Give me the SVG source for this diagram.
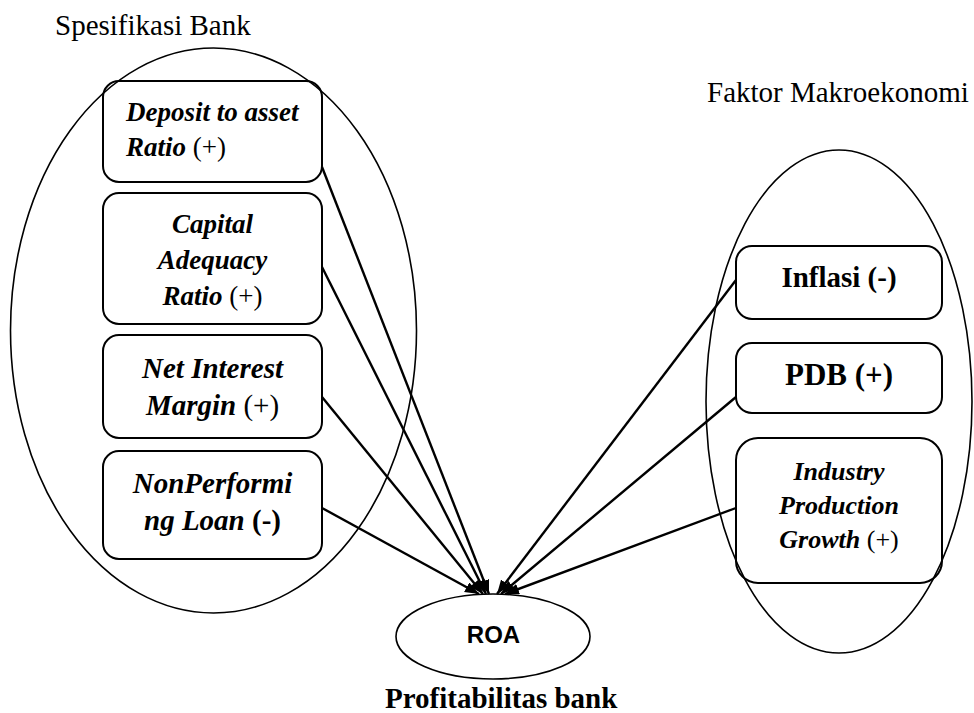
<svg xmlns="http://www.w3.org/2000/svg" width="974" height="713" viewBox="0 0 974 713">
<defs>
<marker id="arr" markerUnits="userSpaceOnUse" markerWidth="16" markerHeight="12" refX="14" refY="5.5" orient="auto">
<path d="M0,0 L14,5.5 L0,11 z" fill="#000"/>
</marker>
<style>
.grp{fill:none;stroke:#000;stroke-width:1.6}
.box{fill:none;stroke:#000;stroke-width:2}
.con{stroke:#000;stroke-width:2.4;fill:none;marker-end:url(#arr)}
text{font-family:"Liberation Serif","Times New Roman",serif;fill:#000}
.h{font-size:29px}
.bi{font-weight:bold;font-style:italic}
.b{font-weight:bold}
.r{font-weight:normal;font-style:normal}
.c{text-anchor:middle}
</style>
</defs>
<rect width="974" height="713" fill="#fff"/>

<text class="h" x="55" y="35">Spesifikasi Bank</text>
<text class="h" x="707" y="102">Faktor Makroekonomi</text>

<g id="group-bank"><ellipse class="grp" cx="213.5" cy="330.5" rx="203" ry="282.5"/></g>
<g id="group-macro"><ellipse class="grp" cx="839" cy="401.5" rx="133" ry="251.5"/></g>

<g id="connectors">
<line class="con" x1="322" y1="167" x2="489" y2="594"/>
<line class="con" x1="322" y1="267" x2="486" y2="594"/>
<line class="con" x1="322" y1="397" x2="483" y2="594"/>
<line class="con" x1="322" y1="508" x2="479" y2="594"/>
<line class="con" x1="736" y1="280" x2="497" y2="594"/>
<line class="con" x1="736" y1="397" x2="501" y2="594"/>
<line class="con" x1="736" y1="508" x2="505" y2="594"/>
</g>

<g id="dar">
<rect class="box" x="103" y="81" width="219" height="101" rx="16"/>
<text style="font-size:27px"><tspan class="bi" x="126" y="121">Deposit to asset</tspan><tspan class="bi" x="126" y="156">Ratio</tspan><tspan class="r"> (+)</tspan></text>
</g>

<g id="car">
<rect class="box" x="103" y="193" width="219" height="131" rx="16"/>
<text class="c" style="font-size:27px"><tspan class="bi" x="212.5" y="233">Capital</tspan><tspan class="bi" x="212.5" y="269">Adequacy</tspan><tspan x="212.5" y="305"><tspan class="bi">Ratio</tspan><tspan class="r"> (+)</tspan></tspan></text>
</g>

<g id="nim">
<rect class="box" x="103" y="335" width="219" height="103" rx="16"/>
<text class="c" style="font-size:29px"><tspan class="bi" x="212.5" y="378">Net Interest</tspan><tspan x="212.5" y="415"><tspan class="bi">Margin</tspan><tspan class="r"> (+)</tspan></tspan></text>
</g>

<g id="npl">
<rect class="box" x="103" y="451" width="219" height="108" rx="16"/>
<text class="c" style="font-size:29px"><tspan class="bi" x="212.5" y="493">NonPerformi</tspan><tspan x="212.5" y="530"><tspan class="bi">ng Loan</tspan><tspan class="b"> (-)</tspan></tspan></text>
</g>

<g id="inflasi">
<rect class="box" x="736" y="246" width="206" height="73" rx="16"/>
<text class="c b" x="839" y="287" style="font-size:29px">Inflasi (-)</text>
</g>

<g id="pdb">
<rect class="box" x="736" y="343" width="206" height="70" rx="16"/>
<text class="c b" x="839" y="385" style="font-size:31px">PDB (+)</text>
</g>

<g id="ipg">
<rect class="box" x="736" y="438" width="206" height="145" rx="22"/>
<text class="c" style="font-size:26px"><tspan class="bi" x="839" y="480">Industry</tspan><tspan class="bi" x="839" y="514">Production</tspan><tspan x="839" y="548"><tspan class="bi">Growth</tspan><tspan class="r"> (+)</tspan></tspan></text>
</g>

<g id="roa">
<ellipse class="grp" cx="493" cy="636.5" rx="97" ry="42.5"/>
<text class="c" x="493.5" y="643" style="font-family:'Liberation Sans',Arial,sans-serif;font-weight:bold;font-size:24px">ROA</text>
</g>

<text class="b" x="385" y="708" style="font-size:29px">Profitabilitas bank</text>
</svg>
